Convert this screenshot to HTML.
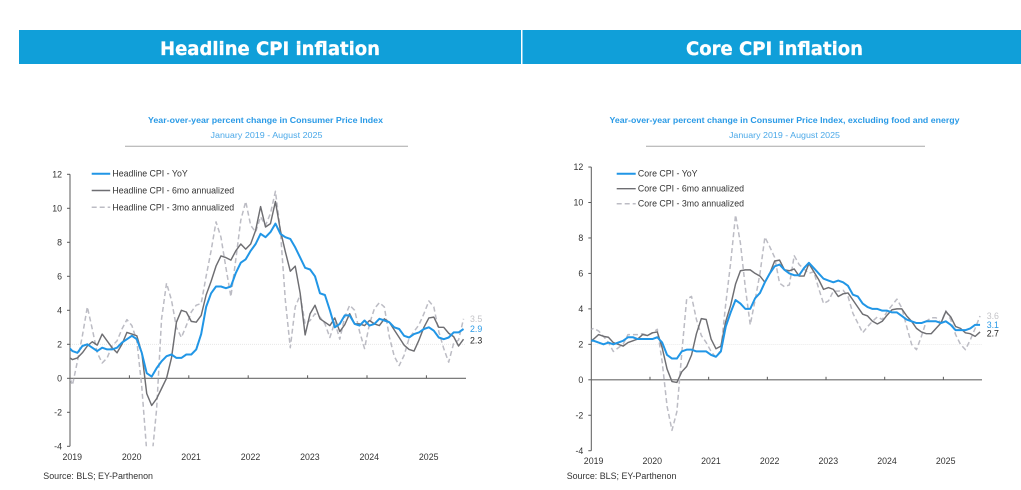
<!DOCTYPE html>
<html lang="en">
<head>
<meta charset="utf-8">
<title>CPI inflation charts</title>
<style>
html,body{margin:0;padding:0;background:#fff;}
svg{display:block;}
text{font-family:"Liberation Sans",Arial,sans-serif;}
</style>
</head>
<body>
<svg id="root" xmlns="http://www.w3.org/2000/svg" width="1021" height="490" viewBox="0 0 1021 490">
  <rect width="1021" height="490" fill="#ffffff"/>
  <rect x="19" y="30" width="502" height="34" fill="#109fd9"/>
  <rect x="522.5" y="30" width="498.5" height="34" fill="#109fd9"/>
  <text x="160" y="55" textLength="220" lengthAdjust="spacingAndGlyphs" fill="#ffffff" stroke="#ffffff" stroke-width="0.3" style="font-family:'DejaVu Sans',sans-serif;font-weight:700;font-size:19px">Headline CPI inflation</text>
  <text x="686" y="55" textLength="177" lengthAdjust="spacingAndGlyphs" fill="#ffffff" stroke="#ffffff" stroke-width="0.3" style="font-family:'DejaVu Sans',sans-serif;font-weight:700;font-size:19px">Core CPI inflation</text>

  <text x="148" y="123" textLength="235" lengthAdjust="spacingAndGlyphs" fill="#2a9ae6" font-size="8.6" font-weight="700">Year-over-year percent change in Consumer Price Index</text>
  <text x="210.5" y="138" textLength="112" lengthAdjust="spacingAndGlyphs" fill="#4aa8e8" font-size="8.6">January 2019 - August 2025</text>
  <line x1="125" y1="146.3" x2="408" y2="146.3" stroke="#a8a8a8" stroke-width="1"/>

  <text x="609.5" y="123" textLength="350" lengthAdjust="spacingAndGlyphs" fill="#2a9ae6" font-size="8.6" font-weight="700">Year-over-year percent change in Consumer Price Index, excluding food and energy</text>
  <text x="729" y="138" textLength="111" lengthAdjust="spacingAndGlyphs" fill="#4aa8e8" font-size="8.6">January 2019 - August 2025</text>
  <line x1="646" y1="146.3" x2="925" y2="146.3" stroke="#a8a8a8" stroke-width="1"/>

  <g id="chart-left"></g>
  <g id="chart-right"></g>
</svg>
<script>
// Monthly values, Dec 2018 through Aug 2025 (the Dec 2018 point is clipped by the y axis)
const headlineYoY = [1.9,1.6,1.5,1.9,2.0,1.8,1.6,1.8,1.7,1.7,1.8,2.1,2.3,2.5,2.3,1.5,0.3,0.1,0.6,1.0,1.3,1.4,1.2,1.2,1.4,1.4,1.7,2.6,4.2,5.0,5.4,5.4,5.3,5.4,6.2,6.8,7.0,7.5,7.9,8.5,8.3,8.6,9.1,8.5,8.3,8.2,7.7,7.1,6.5,6.4,6.0,5.0,4.9,4.0,3.0,3.2,3.7,3.7,3.2,3.1,3.4,3.1,3.2,3.5,3.4,3.3,3.0,2.9,2.5,2.4,2.6,2.7,2.9,3.0,2.8,2.4,2.3,2.4,2.7,2.7,2.9];
const headline6mo = [1.3,1.1,1.2,1.5,1.9,2.15,1.95,2.6,2.2,1.8,1.5,2.0,2.7,2.6,2.5,1.5,-0.9,-1.6,-1.2,-0.6,0.0,1.2,3.3,4.0,3.9,3.35,3.3,3.7,4.9,5.7,6.6,7.2,7.1,6.95,7.5,7.9,7.6,7.9,8.7,10.1,8.9,9.1,10.4,8.7,7.45,6.3,6.6,5.0,2.55,3.8,4.3,3.5,3.3,3.1,3.55,2.75,3.15,3.8,3.2,3.2,3.1,3.4,3.2,3.1,3.5,3.3,2.85,2.4,1.95,1.7,1.6,2.25,3.0,3.55,3.6,3.0,3.0,2.65,2.45,1.9,2.3];
const headline3mo = [0.4,-0.4,1.0,2.5,4.2,2.9,1.5,0.9,1.2,1.9,2.2,2.9,3.45,3.1,2.2,-0.5,-4.3,-4.8,-1.8,3.5,5.6,4.6,3.0,2.4,3.1,3.9,4.3,4.4,6.0,7.5,9.2,8.3,6.5,4.8,7.0,9.3,10.4,9.0,8.6,9.5,9.0,9.7,11.0,8.7,4.6,1.8,4.2,4.9,3.2,3.4,3.8,3.6,3.2,2.4,3.3,2.3,3.6,4.3,4.0,2.75,1.75,3.2,4.1,4.45,4.2,2.45,1.3,0.75,1.35,2.35,2.75,3.15,3.8,4.55,4.2,2.75,1.75,0.95,2.05,2.25,3.5];

const coreYoY = [2.2,2.2,2.1,2.0,2.1,2.0,2.1,2.2,2.4,2.4,2.3,2.3,2.3,2.3,2.4,2.1,1.4,1.2,1.2,1.6,1.7,1.7,1.6,1.6,1.6,1.4,1.3,1.6,3.0,3.8,4.5,4.3,4.0,4.0,4.6,4.9,5.5,6.0,6.4,6.5,6.2,6.0,5.9,5.9,6.3,6.6,6.3,6.0,5.7,5.6,5.5,5.6,5.5,5.3,4.8,4.7,4.3,4.1,4.0,4.0,3.9,3.9,3.8,3.8,3.6,3.4,3.3,3.2,3.2,3.3,3.3,3.3,3.2,3.3,3.1,2.8,2.8,2.8,2.9,3.1,3.1];
const core6mo = [2.1,2.3,2.55,2.45,2.4,2.1,2.0,1.9,2.1,2.2,2.3,2.55,2.5,2.65,2.7,1.8,0.6,-0.1,-0.15,0.45,0.75,1.4,2.6,3.45,3.4,2.3,1.75,1.9,3.3,4.2,5.4,6.15,6.2,6.2,6.0,5.85,5.5,6.0,6.7,6.75,6.2,6.15,6.25,5.85,5.85,6.55,6.1,5.65,5.1,5.2,5.1,4.7,4.85,4.9,4.5,4.1,3.7,3.6,3.3,3.15,3.3,3.65,3.95,4.0,4.0,3.6,3.3,2.9,2.7,2.6,2.6,2.9,3.2,3.85,3.55,3.0,2.9,2.65,2.6,2.45,2.7];
const core3mo = [2.8,2.9,2.75,2.45,2.1,1.6,1.8,2.0,2.55,2.55,2.55,2.6,2.5,2.65,2.85,1.0,-1.5,-2.85,-1.8,1.5,4.55,4.7,3.4,2.5,2.1,1.6,1.25,1.7,4.3,6.6,9.3,7.7,5.2,3.1,4.5,6.0,8.05,7.5,6.9,5.45,5.25,5.35,7.0,6.5,6.25,6.0,6.1,5.15,4.3,4.45,5.0,5.0,5.05,4.7,3.75,3.2,2.65,3.0,3.3,3.55,3.4,3.85,4.2,4.55,4.05,3.0,2.0,1.7,2.45,3.3,3.5,3.5,3.2,3.9,3.4,2.55,2.0,1.7,2.25,2.9,3.6];

const yearLabels = ["2019","2020","2021","2022","2023","2024","2025"];
const yTicks = [-4,-2,0,2,4,6,8,10,12];
const headlineLegend = ["Headline CPI - YoY","Headline CPI - 6mo annualized","Headline CPI - 3mo annualized"];
const coreLegend = ["Core CPI - YoY","Core CPI - 6mo annualized","Core CPI - 3mo annualized"];
const refLevel = 2;

const NS = "http://www.w3.org/2000/svg";
function mk(parent, tag, attrs, txt){
  const e = document.createElementNS(NS, tag);
  for (const k in attrs) e.setAttribute(k, attrs[k]);
  if (txt !== undefined) e.textContent = txt;
  parent.appendChild(e);
  return e;
}

function drawChart(g, c){
  const xScale = i => c.x0 + (i - 0.5) * c.step;       // i=0 is Dec 2018, i=1 Jan 2019 (centred in its band)
  const yScale = v => c.y0 - v * c.unit;
  const yTop = yScale(yTicks[yTicks.length-1]), yBot = yScale(yTicks[0]);

  const clip = mk(g, "clipPath", {id:c.id+"-clip"});
  mk(clip, "rect", {x:c.x0, y:yTop, width:c.xEnd-c.x0, height:yBot-yTop});

  const ref = mk(g, "line", {x1:c.x0, x2:c.xEnd, y1:yScale(refLevel), y2:yScale(refLevel), stroke:"#e4e4e4", "stroke-width":0.8, "stroke-dasharray":"1 1"});
  
  

  const yAxis = mk(g, "line", {x1:c.x0, x2:c.x0, y1:yTop, y2:yBot, stroke:"#5a5a5a", "stroke-width":1});
  
  

  yTicks.forEach(v => {
    const tick = mk(g, "line", {x1:c.x0-3, x2:c.x0, y1:yScale(v), y2:yScale(v), stroke:"#5a5a5a", "stroke-width":1});
    
    
    const lab = mk(g, "text", {x:c.x0-8, y:yScale(v)+3.1, "text-anchor":"end", "font-size":8.8, fill:"#333"}, String(v));
    
    
  });

  const xAxis = mk(g, "line", {x1:c.x0, x2:c.xEnd, y1:yScale(0), y2:yScale(0), stroke:"#6a6a6a", "stroke-width":1.1});
  
  

  yearLabels.forEach((lab, k) => {
    const tx = c.x0 + k * 12 * c.step;
    if (k > 0) {
      const tick = mk(g, "line", {x1:tx, x2:tx, y1:yScale(0)-3, y2:yScale(0), stroke:"#5a5a5a", "stroke-width":1});
      
      
    }
    const t = mk(g, "text", {x:tx+2.3, y:c.xLabelY, "text-anchor":"middle", "font-size":8.8, fill:"#333"}, lab);
    
    
  });

  const line = (vals, color, w, dash, name) => {
    const d = vals.map((v,i) => (i?"L":"M") + xScale(i).toFixed(2) + " " + yScale(v).toFixed(2)).join("");
    const attrs = {d:d, fill:"none", stroke:color, "stroke-width":w, "stroke-linejoin":"round", "clip-path":"url(#"+c.id+"-clip)"};
    if (dash) attrs["stroke-dasharray"] = dash;
    const p = mk(g, "path", attrs);
    
    
  };
  line(c.s3, "#bcbcc4", 1.5, "5 3", "series-3mo-annualized");
  line(c.s6, "#6e6e72", 1.45, null, "series-6mo-annualized");
  line(c.yoy, "#2196e6", 2, null, "series-yoy");

  const endVals = [[c.s3,"#c4c4c8","end-label-3mo",0],[c.yoy,"#2a9ae6","end-label-yoy",0],[c.s6,"#222222","end-label-6mo",1.2]];
  endVals.forEach(ev => {
    const val = ev[0][ev[0].length-1];
    const t = mk(g, "text", {x:c.labelX, y:yScale(val)+3.2+ev[3], "font-size":8.8, fill:ev[1]}, val.toFixed(1));
    
    
  });

  const legendStyles = [["#2196e6",2,null],["#6e6e72",1.45,null],["#bcbcc4",1.5,"5 3"]];
  c.legend.forEach((lab, k) => {
    const ly = c.legY + k * c.legGap;
    const st = legendStyles[k];
    const attrs = {x1:c.legX, x2:c.legX+c.legLen, y1:ly, y2:ly, stroke:st[0], "stroke-width":st[1]};
    if (st[2]) attrs["stroke-dasharray"] = st[2];
    const sw = mk(g, "line", attrs);
    
    
    const t = mk(g, "text", {x:c.legX+c.legLen+2.2, y:ly+3, "font-size":8.8, fill:"#333"}, lab);
    
    
  });

  const src = mk(g, "text", {x:c.srcX, y:479, "font-size":8.9, fill:"#333"}, "Source: BLS; EY-Parthenon");
  
  
}

drawChart(document.getElementById("chart-left"), {
  id:"left", x0:70, xEnd:466, step:4.95, y0:378.3, unit:17, xLabelY:460,
  yoy:headlineYoY, s6:headline6mo, s3:headline3mo, legend:headlineLegend,
  labelX:470, legX:91.7, legLen:18.5, legY:173.7, legGap:16.8, srcX:43.3
});
drawChart(document.getElementById("chart-right"), {
  id:"right", x0:591.3, xEnd:982, step:4.89, y0:379.8, unit:17.73, xLabelY:464,
  yoy:coreYoY, s6:core6mo, s3:core3mo, legend:coreLegend,
  labelX:986.7, legX:616.7, legLen:19, legY:173.7, legGap:15, srcX:566.7
});
</script>
</body>
</html>
